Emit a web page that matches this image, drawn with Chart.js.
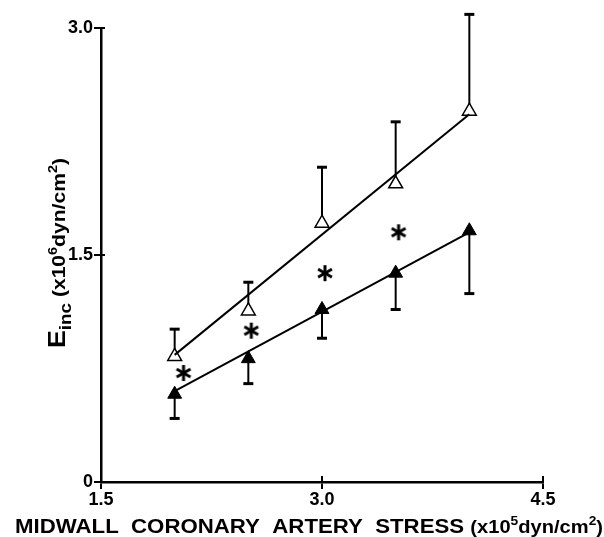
<!DOCTYPE html>
<html>
<head>
<meta charset="utf-8">
<script src="https://cdn.jsdelivr.net/npm/chart.js@4.4.0/dist/chart.umd.min.js"></script>
<style>
  html, body { margin: 0; padding: 0; background: #fff; }
  #wrap { width: 604px; height: 537px; }
</style>
</head>
<body>
<div id="wrap"><canvas id="grafico"></canvas></div>
<script>
// valores
const stress = [2.0, 2.5, 3.0, 3.5, 4.0];
const openMean = [0.83, 1.13, 1.71, 1.97, 2.45];
const openUpper = [1.01, 1.32, 2.08, 2.38, 3.09];
const filledMean = [0.58, 0.815, 1.14, 1.38, 1.66];
const filledLower = [0.42, 0.65, 0.95, 1.14, 1.245];
const fitX = [2.0, 4.0];
const openFit = [0.84, 2.43];
const filledFit = [0.60, 1.65];
const starX = [2.06, 2.52, 3.02, 3.52];
const starY = [0.72, 1.0, 1.38, 1.65];
const xTicks = [1.5, 3.0, 4.5];
const yTicks = [0, 1.5, 3.0];

const pts = (xs, ys) => xs.map((x, i) => ({ x: x, y: ys[i] }));

// asterisco com 6 braços
const star = document.createElement('canvas');
star.width = 18; star.height = 18;
(function () {
    const c = star.getContext('2d');
    c.strokeStyle = '#000';
    c.lineWidth = 3;
    for (let k = 0; k < 3; k++) {
        const a = Math.PI / 2 + k * Math.PI / 3;
        c.beginPath();
        c.moveTo(9 + Math.cos(a) * 8, 9 + Math.sin(a) * 8);
        c.lineTo(9 - Math.cos(a) * 8, 9 - Math.sin(a) * 8);
        c.stroke();
    }
})();

const errorBars = {
    id: 'errorBars',
    beforeDatasetsDraw(chart) {
        const ctx = chart.ctx, x = chart.scales.x, y = chart.scales.y;
        ctx.save();
        ctx.strokeStyle = '#000';
        const bar = (v, from, to) => {
            const px = x.getPixelForValue(v);
            ctx.lineWidth = 2;
            ctx.beginPath();
            ctx.moveTo(px, y.getPixelForValue(from));
            ctx.lineTo(px, y.getPixelForValue(to));
            ctx.stroke();
            ctx.lineWidth = 3;
            ctx.beginPath();
            ctx.moveTo(px - 5, y.getPixelForValue(to));
            ctx.lineTo(px + 5, y.getPixelForValue(to));
            ctx.stroke();
        };
        stress.forEach((v, i) => {
            bar(v, openMean[i], openUpper[i]);
            bar(v, filledMean[i], filledLower[i]);
        });
        // pequenos traços dos ticks para dentro do gráfico
        ctx.lineWidth = 2;
        xTicks.forEach(v => {
            const px = x.getPixelForValue(v);
            ctx.beginPath();
            ctx.moveTo(px, y.bottom);
            ctx.lineTo(px, y.bottom - 6);
            ctx.stroke();
        });
        yTicks.forEach(v => {
            const py = y.getPixelForValue(v);
            ctx.beginPath();
            ctx.moveTo(x.left, py);
            ctx.lineTo(x.left + 4, py);
            ctx.stroke();
        });
        ctx.restore();
    }
};

// desenha trechos de texto (tamanho, deslocamento vertical) ajustados à largura w
function runs(ctx, parts, cx, baseline, family, w) {
    let total = 0;
    parts.forEach(p => {
        ctx.font = 'bold ' + p.size + 'px ' + family;
        p.w = ctx.measureText(p.t).width;
        total += p.w;
    });
    ctx.save();
    ctx.translate(cx, baseline);
    ctx.scale(w / total, 1);
    let x = -total / 2;
    parts.forEach(p => {
        ctx.font = 'bold ' + p.size + 'px ' + family;
        ctx.fillText(p.t, x, p.dy || 0);
        x += p.w;
    });
    ctx.restore();
}

const titles = {
    id: 'titles',
    afterDraw(chart) {
        const ctx = chart.ctx;
        ctx.save();
        ctx.fillStyle = '#000';
        ctx.textBaseline = 'alphabetic';
        ctx.textAlign = 'left';
        // eixo x
        runs(ctx, [
            { t: 'MIDWALL  CORONARY  ARTERY  STRESS ', size: 21 },
            { t: '(x10', size: 19 },
            { t: '5', size: 13, dy: -8 },
            { t: 'dyn/cm', size: 19 },
            { t: '2', size: 13, dy: -8 },
            { t: ')', size: 19 }
        ], 309, 533, '"Liberation Sans", Arial, sans-serif', 588);
        // eixo y
        ctx.translate(57, 253);
        ctx.rotate(-Math.PI / 2);
        runs(ctx, [
            { t: 'E', size: 24 },
            { t: 'inc', size: 17, dy: 6 },
            { t: ' (x10', size: 19 },
            { t: '6', size: 13, dy: -8 },
            { t: 'dyn/cm', size: 19 },
            { t: '2', size: 13, dy: -8 },
            { t: ')', size: 19 }
        ], 0, 8, '"Liberation Sans", Arial, sans-serif', 190);
        ctx.restore();
    }
};

const tickFont = { family: '"Liberation Sans Narrow", "Liberation Sans", Arial, sans-serif', size: 18, weight: 'bold' };

new Chart(document.getElementById('grafico'), {
    type: 'scatter',
    data: {
        datasets: [
            {
                data: pts(fitX, openFit), showLine: true, pointRadius: 0,
                borderColor: '#000', borderWidth: 2
            },
            {
                data: pts(fitX, filledFit), showLine: true, pointRadius: 0,
                borderColor: '#000', borderWidth: 2
            },
            {
                data: pts(stress, openMean), pointStyle: 'triangle', pointRadius: 8,
                backgroundColor: '#fff', borderColor: '#000', borderWidth: 1.5
            },
            {
                data: pts(stress, filledMean), pointStyle: 'triangle', pointRadius: 8,
                backgroundColor: '#000', borderColor: '#000', borderWidth: 1
            },
            {
                data: pts(starX, starY), pointStyle: star, pointRadius: 9
            }
        ]
    },
    options: {
        responsive: true,
        maintainAspectRatio: false,
        animation: false,
        layout: { padding: { left: 0, top: 28, right: 61, bottom: 0 } },
        plugins: { legend: { display: false }, tooltip: { enabled: false } },
        scales: {
            x: {
                type: 'linear', min: 1.5, max: 4.5,
                afterBuildTicks: s => { s.ticks = xTicks.map(v => ({ value: v })); },
                afterFit: s => { s.height = 55; },
                ticks: { color: '#000', font: tickFont, padding: 0, callback: v => v.toFixed(1) },
                grid: { drawOnChartArea: false, tickLength: 7, color: '#000', lineWidth: 2 },
                border: { color: '#000', width: 2.5 }
            },
            y: {
                min: 0, max: 3,
                afterBuildTicks: s => { s.ticks = yTicks.map(v => ({ value: v })); },
                afterFit: s => { s.width = 101; },
                ticks: { color: '#000', font: tickFont, padding: 1, callback: v => v === 0 ? '0' : v.toFixed(1) },
                grid: { drawOnChartArea: false, tickLength: 7, color: '#000', lineWidth: 2 },
                border: { color: '#000', width: 2.5 }
            }
        }
    },
    plugins: [errorBars, titles]
});
</script>
</body>
</html>
